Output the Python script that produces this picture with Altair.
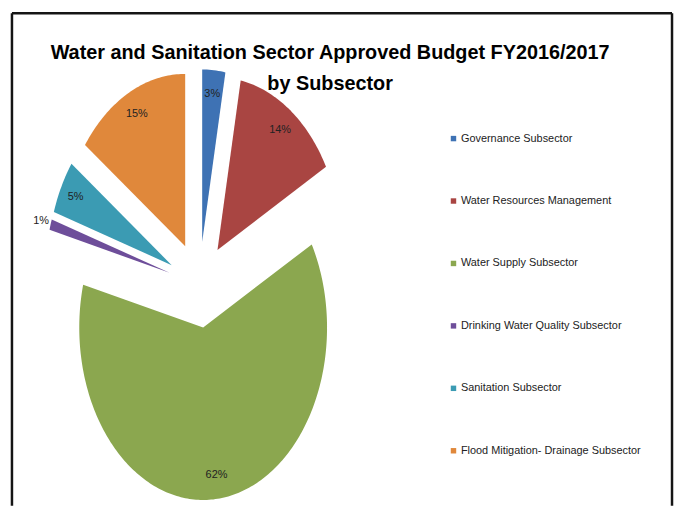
import math
import altair as alt
import pandas as pd

# ---- data ----
categories = [
    "Governance Subsector",
    "Water Resources Management",
    "Water Supply Subsector",
    "Drinking Water Quality Subsector",
    "Sanitation Subsector",
    "Flood Mitigation- Drainage Subsector",
]
values = [3, 14, 62, 1, 5, 15]          # percent of budget
explode = [0.25, 0.25, 0.25, 0.25, 0.25, 0.25]   # radial offset of each slice (style)
label_radius = [0.86, 0.86, 0.86, 1.08, 0.87, 0.86]  # label distance from slice apex (style)
colors = ["#3E72B4", "#A94542", "#8BA74F", "#6E4E9A", "#3B9BB3", "#E0883B"]

title_lines = ["Water and Sanitation Sector Approved Budget FY2016/2017", "by Subsector"]

# ---- layout (style) ----
W, H = 672, 500
CX, CY = 193, 277      # pie centre in pixels
RX, RY = 125, 174      # horizontal / vertical radius in pixels (squashed pie)

# ---- build slice outlines from the values (unit circle space) ----
total = sum(values)
rows, labels = [], []
cum = 0
for i, (cat, val) in enumerate(zip(categories, values)):
    a0 = 2 * math.pi * cum / total
    a1 = 2 * math.pi * (cum + val) / total
    cum += val
    am = (a0 + a1) / 2
    ox, oy = explode[i] * math.sin(am), explode[i] * math.cos(am)
    rows.append(dict(cat=cat, idx=0, u=ox, v=oy))
    n = max(4, int(math.degrees(a1 - a0)))
    for k in range(n + 1):
        a = a0 + (a1 - a0) * k / n
        rows.append(dict(cat=cat, idx=k + 1, u=ox + math.sin(a), v=oy + math.cos(a)))
    r = explode[i] + label_radius[i]
    labels.append(dict(cat=cat, text=f"{val}%", u=r * math.sin(am), v=r * math.cos(am)))

slice_df = pd.DataFrame(rows)
label_df = pd.DataFrame(labels)

x_scale = alt.Scale(domain=[-CX / RX, (W - CX) / RX], nice=False, zero=False)
y_scale = alt.Scale(domain=[(CY - H) / RY, CY / RY], nice=False, zero=False)
c_scale = alt.Scale(domain=categories, range=colors)

FONT = "Liberation Sans, Arial, sans-serif"

slices = alt.Chart(slice_df).mark_line(filled=True, strokeWidth=0).encode(
    x=alt.X("u:Q", scale=x_scale, axis=None),
    y=alt.Y("v:Q", scale=y_scale, axis=None),
    color=alt.Color(
        "cat:N",
        scale=c_scale,
        legend=alt.Legend(
            title=None,
            orient="none",
            legendX=444,
            legendY=124,
            symbolType="square",
            symbolSize=30,
            symbolStrokeWidth=0,
            labelFont=FONT,
            labelFontSize=11,
            labelColor="#222222",
            labelOffset=2,
            rowPadding=51,
            padding=0,
            labelLimit=300,
        ),
    ),
    order=alt.Order("idx:Q"),
)

text = alt.Chart(label_df).mark_text(font=FONT, fontSize=11, color="#222222").encode(
    x=alt.X("u:Q", scale=x_scale, axis=None),
    y=alt.Y("v:Q", scale=y_scale, axis=None),
    text="text:N",
)

frame_df = pd.DataFrame({"k": [0]})
frame_col = "#151515"
left = alt.Chart(frame_df).mark_rule(color=frame_col, strokeWidth=2.5).encode(
    x=alt.value(4), y=alt.value(3), y2=alt.value(H))
top = alt.Chart(frame_df).mark_rule(color=frame_col, strokeWidth=2.5).encode(
    x=alt.value(4), x2=alt.value(670), y=alt.value(3))
right = alt.Chart(frame_df).mark_rule(color=frame_col, strokeWidth=2.5).encode(
    x=alt.value(670), y=alt.value(3), y2=alt.value(H))

chart = alt.layer(left, top, right, slices, text).properties(
    width=W,
    height=H,
    autosize="none",
    padding=0,
    title=alt.TitleParams(
        text=title_lines,
        font=FONT,
        fontSize=20,
        fontWeight="bold",
        color="#000000",
        anchor="middle",
        frame="group",
        offset=0,
        baseline="alphabetic",
        lineHeight=31,
        dy=100,
        dx=-11,
    ),
).configure_view(stroke=None)

chart.save("out.html", embed_options={"renderer": "svg", "actions": False})
